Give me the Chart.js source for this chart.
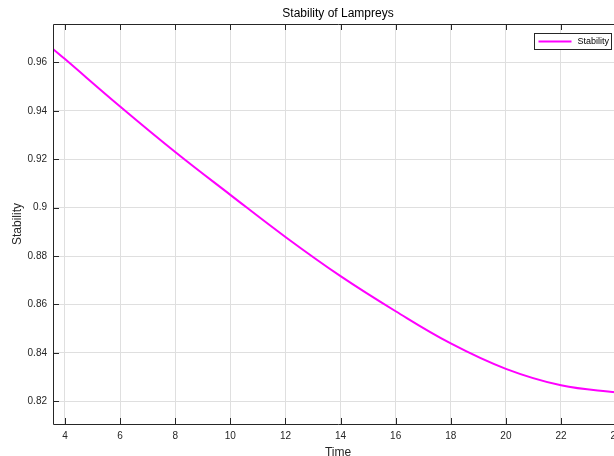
<!DOCTYPE html>
<html><head><meta charset="utf-8">
<script src="https://cdn.jsdelivr.net/npm/chart.js@4/dist/chart.umd.min.js"></script>
<style>
html,body{margin:0;padding:0;overflow:hidden;background:#fff;width:614px;height:456px}
canvas{display:block}
</style></head>
<body><canvas id="c" width="640" height="456"></canvas>
<script>
const chartTitle = 'Stability of Lampreys';
const xAxisLabel = 'Time';
const yAxisLabel = 'Stability';
const seriesName = 'Stability';
const timeValues = [3.565, 4, 6, 8, 10, 12, 14, 16, 18, 20, 22, 24, 24.25];
const stabilityValues = [0.9656, 0.9614, 0.9418, 0.9230, 0.9053, 0.8879, 0.8717, 0.8572, 0.8439, 0.8334, 0.8266, 0.8237, 0.8236];
const xTicks = [4, 6, 8, 10, 12, 14, 16, 18, 20, 22, 24];
const yTicks = [0.82, 0.84, 0.86, 0.88, 0.9, 0.92, 0.94, 0.96];
const xRange = [3.565, 24.25];
const yRange = [0.8106, 0.9759];

const axisColor = '#262626';
const gridColor = '#dfdfdf';
const lineColor = '#ff00ff';
const fontFamily = '"Liberation Sans", Arial, Helvetica, sans-serif';

const framePlugin = {
  id: 'frame',
  afterDraw(chart) {
    const ctx = chart.ctx;
    const a = chart.chartArea;
    const xs = chart.scales.x, ys = chart.scales.y;
    ctx.save();
    ctx.strokeStyle = axisColor;
    ctx.lineWidth = 1;
    ctx.beginPath();
    ctx.moveTo(Math.round(a.left) + 0.5, Math.round(a.bottom) + 0.5);
    ctx.lineTo(Math.round(a.left) + 0.5, Math.round(a.top) + 0.5);
    ctx.lineTo(Math.round(a.right) + 0.5, Math.round(a.top) + 0.5);
    ctx.moveTo(Math.round(a.left) + 0.5, Math.round(a.bottom) + 0.5);
    ctx.lineTo(Math.round(a.right) + 0.5, Math.round(a.bottom) + 0.5);
    const tl = 6;
    xTicks.forEach(v => {
      const px = Math.round(xs.getPixelForValue(v)) + 0.5;
      ctx.moveTo(px, a.bottom); ctx.lineTo(px, a.bottom - tl);
      ctx.moveTo(px, a.top); ctx.lineTo(px, a.top + tl);
    });
    yTicks.forEach(v => {
      const py = Math.round(ys.getPixelForValue(v)) + 0.5;
      ctx.moveTo(a.left, py); ctx.lineTo(a.left + tl, py);
    });
    ctx.stroke();

    ctx.fillStyle = '#000';
    ctx.font = '12px ' + fontFamily;
    ctx.textAlign = 'center';
    ctx.textBaseline = 'middle';
    ctx.fillText(chartTitle, (a.left + a.right) / 2, 14);

    const ds = chart.data.datasets[0];
    const bw = 77, bh = 16;
    const bx = Math.round(a.right - 12 - bw) + 0.5, by = Math.round(a.top + 9) + 0.5;
    ctx.fillStyle = '#fff';
    ctx.fillRect(bx, by, bw, bh);
    ctx.strokeStyle = axisColor;
    ctx.strokeRect(bx, by, bw, bh);
    ctx.strokeStyle = ds.borderColor;
    ctx.lineWidth = 2;
    ctx.beginPath();
    ctx.moveTo(bx + 4, by + bh / 2); ctx.lineTo(bx + 37, by + bh / 2);
    ctx.stroke();
    ctx.fillStyle = '#000';
    ctx.font = '9px ' + fontFamily;
    ctx.textAlign = 'left';
    ctx.fillText(ds.label, bx + 43, by + bh / 2 + 0.5);
    ctx.restore();
  }
};

new Chart(document.getElementById('c'), {
  type: 'line',
  data: {
    datasets: [{
      label: seriesName,
      data: timeValues.map((t, i) => ({ x: t, y: stabilityValues[i] })),
      borderColor: lineColor,
      backgroundColor: lineColor,
      borderWidth: 2,
      pointRadius: 0,
      tension: 0.4,
      fill: false
    }]
  },
  options: {
    responsive: false,
    animation: false,
    devicePixelRatio: 1,
    layout: { padding: { top: 24, right: 17, left: 0, bottom: 0 } },
    plugins: { legend: { display: false }, title: { display: false }, tooltip: { enabled: false } },
    scales: {
      x: {
        type: 'linear',
        min: xRange[0], max: xRange[1],
        afterBuildTicks: s => { s.ticks = xTicks.map(v => ({ value: v })); },
        afterFit: s => { s.height = 32; },
        grid: { color: gridColor, drawTicks: false, lineWidth: 1 },
        border: { display: false },
        ticks: { color: axisColor, font: { family: fontFamily, size: 10 }, padding: 6, maxRotation: 0, autoSkip: false, callback: v => String(v) },
        title: { display: true, text: xAxisLabel, color: axisColor, font: { family: fontFamily, size: 12, lineHeight: 0.5 }, padding: { top: 0, bottom: 0 } }
      },
      y: {
        type: 'linear',
        min: yRange[0], max: yRange[1],
        afterBuildTicks: s => { s.ticks = yTicks.map(v => ({ value: v })); },
        afterFit: s => { s.width = 53; },
        grid: { color: gridColor, drawTicks: false, lineWidth: 1 },
        border: { display: false },
        ticks: { color: axisColor, font: { family: fontFamily, size: 10 }, padding: 6, autoSkip: false, callback: v => String(v) },
        title: { display: true, text: yAxisLabel, color: axisColor, font: { family: fontFamily, size: 12, lineHeight: 1.2 }, padding: { top: 10, bottom: 0 } }
      }
    }
  },
  plugins: [framePlugin]
});
</script>
</body></html>
